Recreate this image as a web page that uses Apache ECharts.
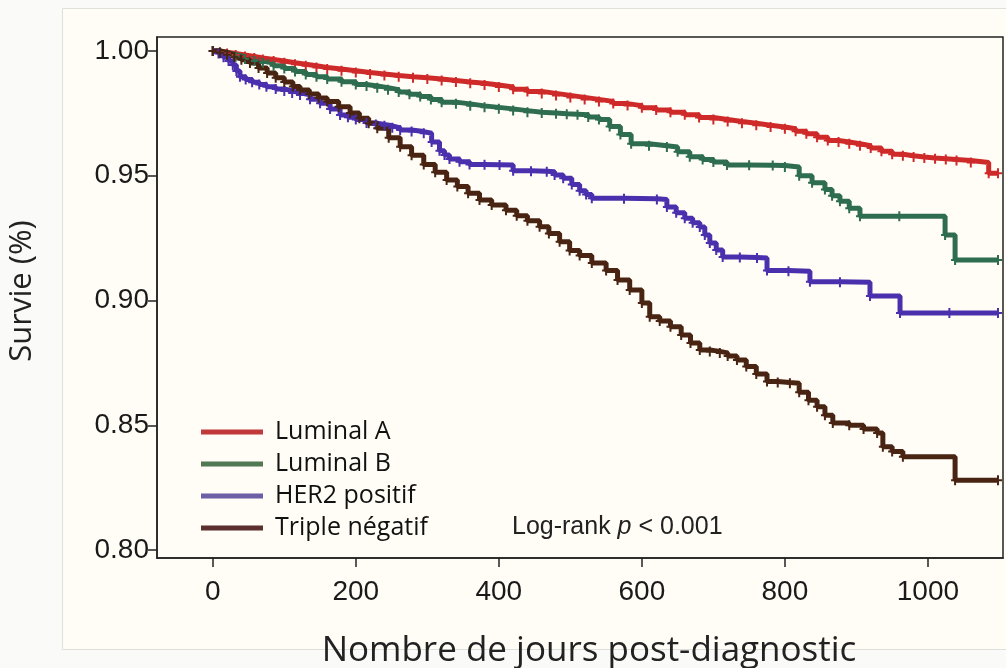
<!DOCTYPE html>
<html>
<head>
<meta charset="utf-8">
<script src="https://cdn.jsdelivr.net/npm/echarts@6.0.0/dist/echarts.min.js"></script>
<style>
    body { margin: 0; background: #fafaf8; }
    #chart { width: 1006px; height: 668px; }
</style>
</head>
<body>
<div id="chart"></div>
<script>
// Courbes de survie (Kaplan-Meier) par sous-type
const seriesNames = ['Luminal A', 'Luminal B', 'HER2 positif', 'Triple négatif'];

const lumADays = [0, 10, 20, 32, 45, 58, 70, 85, 100, 115, 130, 145, 160, 180, 200, 220, 240, 260, 280, 300, 320, 340, 360, 380, 400, 420, 440, 460, 480, 500, 520, 540, 560, 580, 600, 620, 640, 660, 680, 700, 720, 740, 760, 780, 800, 815, 830, 845, 860, 875, 890, 905, 920, 935, 950, 965, 980, 995, 1010, 1025, 1040, 1060, 1085, 1098];
const lumASurv = [1.000, 0.9995, 0.9990, 0.9984, 0.9978, 0.9972, 0.9966, 0.9960, 0.9953, 0.9947, 0.9941, 0.9934, 0.9928, 0.9921, 0.9914, 0.9908, 0.9902, 0.9897, 0.9893, 0.9888, 0.9882, 0.9876, 0.9871, 0.9864, 0.9856, 0.9847, 0.9838, 0.9830, 0.9822, 0.9814, 0.9806, 0.9798, 0.9789, 0.9781, 0.9772, 0.9763, 0.9754, 0.9744, 0.9733, 0.9725, 0.9717, 0.9710, 0.9702, 0.9695, 0.9688, 0.9678, 0.9668, 0.9654, 0.9641, 0.9635, 0.9628, 0.9620, 0.9611, 0.9598, 0.9586, 0.9580, 0.9575, 0.9571, 0.9568, 0.9565, 0.9561, 0.9553, 0.9510, 0.9510];

const lumBDays = [0, 10, 20, 32, 45, 58, 70, 85, 100, 115, 130, 145, 160, 180, 200, 215, 230, 245, 260, 275, 290, 305, 320, 340, 360, 380, 400, 420, 440, 460, 480, 495, 510, 525, 540, 555, 570, 585, 610, 635, 650, 667, 685, 700, 719, 750, 783, 800, 820, 838, 856, 866, 877, 890, 905, 960, 1024, 1038, 1098];
const lumBSurv = [1.000, 0.9993, 0.9985, 0.9977, 0.9968, 0.9960, 0.9952, 0.9941, 0.9930, 0.9918, 0.9906, 0.9897, 0.9888, 0.9877, 0.9866, 0.9860, 0.9853, 0.9845, 0.9836, 0.9827, 0.9818, 0.9806, 0.9795, 0.9788, 0.9780, 0.9774, 0.9768, 0.9761, 0.9754, 0.9751, 0.9748, 0.9746, 0.9744, 0.9735, 0.9725, 0.9697, 0.9665, 0.9628, 0.9620, 0.9615, 0.9596, 0.9576, 0.9565, 0.9555, 0.9543, 0.9542, 0.9541, 0.9535, 0.9500, 0.9472, 0.9445, 0.9420, 0.9398, 0.9370, 0.9338, 0.9338, 0.9262, 0.9162, 0.9162];

const her2Days = [0, 8, 15, 22, 28, 33, 38, 46, 55, 65, 75, 88, 100, 111, 122, 136, 150, 164, 178, 189, 200, 215, 228, 240, 251, 262, 278, 295, 306, 317, 324, 331, 345, 359, 380, 401, 420, 445, 467, 478, 490, 502, 513, 522, 530, 575, 621, 635, 648, 660, 671, 681, 688, 695, 704, 713, 737, 761, 775, 805, 835, 877, 919, 961, 1030, 1098];
const her2Surv = [1.000, 0.9990, 0.9975, 0.9960, 0.9944, 0.9920, 0.9897, 0.9886, 0.9875, 0.9866, 0.9857, 0.9848, 0.9840, 0.9832, 0.9824, 0.9807, 0.9790, 0.9767, 0.9743, 0.9734, 0.9725, 0.9711, 0.9705, 0.9700, 0.9692, 0.9683, 0.9677, 0.9670, 0.9635, 0.9600, 0.9583, 0.9567, 0.9556, 0.9545, 0.9544, 0.9543, 0.9520, 0.9518, 0.9516, 0.9503, 0.9490, 0.9465, 0.9440, 0.9425, 0.9410, 0.9408, 0.9405, 0.9375, 0.9352, 0.9330, 0.9312, 0.9295, 0.9262, 0.9230, 0.9202, 0.9174, 0.9172, 0.9170, 0.9120, 0.9117, 0.9075, 0.9073, 0.9018, 0.8950, 0.8950, 0.8950];

const tripleDays = [0, 10, 20, 30, 40, 52, 64, 76, 88, 100, 112, 122, 135, 148, 160, 176, 192, 205, 218, 230, 246, 262, 278, 295, 311, 327, 342, 357, 373, 390, 410, 425, 440, 457, 470, 485, 499, 513, 530, 550, 566, 583, 600, 611, 625, 640, 655, 668, 681, 695, 709, 720, 733, 746, 760, 775, 790, 807, 820, 833, 845, 856, 867, 890, 910, 929, 937, 950, 965, 1038, 1098];
const tripleSurv = [1.000, 0.9993, 0.9985, 0.9975, 0.9965, 0.9952, 0.9932, 0.9912, 0.9893, 0.9876, 0.9858, 0.9844, 0.9828, 0.9812, 0.9798, 0.9776, 0.9751, 0.9730, 0.9710, 0.9690, 0.9652, 0.9616, 0.9582, 0.9545, 0.9514, 0.9483, 0.9457, 0.9430, 0.9403, 0.9383, 0.9362, 0.9340, 0.9320, 0.9296, 0.9268, 0.9235, 0.9200, 0.9180, 0.9150, 0.9120, 0.9082, 0.9042, 0.8990, 0.8935, 0.8918, 0.8895, 0.8862, 0.8830, 0.8802, 0.8796, 0.8790, 0.8778, 0.8762, 0.8735, 0.8705, 0.8675, 0.8671, 0.8668, 0.8632, 0.8600, 0.8574, 0.8540, 0.8509, 0.8500, 0.8485, 0.8469, 0.8414, 0.8395, 0.8374, 0.8280, 0.8280];

const xTicks = [0, 200, 400, 600, 800, 1000];
const yTicks = [0.80, 0.85, 0.90, 0.95, 1.00];

const curveColors = ['#cf2a2a', '#2e6d4f', '#4b30ae', '#4a2413'];
const legendColors = ['#c0393b', '#4f7a55', '#6b5fa5', '#5b2f2f'];

const chart = echarts.init(document.getElementById('chart'));

const pairs = (days, surv) => days.map((d, i) => [d, surv[i]]);
const allData = [
    pairs(lumADays, lumASurv),
    pairs(lumBDays, lumBSurv),
    pairs(her2Days, her2Surv),
    pairs(tripleDays, tripleSurv)
];

// marque de censure "+"
const plusSymbol = 'path://M3,0h2v4h3v2h-3v4h-2v-4h-3v-2h3z';

const option = {
    backgroundColor: '#fafaf8',
    animation: false,
    grid: {
        left: 157,
        right: 3,
        top: 37,
        bottom: 110,
        show: true,
        borderColor: '#222',
        borderWidth: 1.5,
        outerBoundsMode: 'none'
    },
    legend: {
        orient: 'vertical',
        left: 201,
        top: 419,
        padding: 0,
        icon: 'rect',
        itemWidth: 62,
        itemHeight: 5,
        itemGap: 6,
        textStyle: {
            fontFamily: 'Open Sans',
            fontSize: 25,
            color: '#111',
            lineHeight: 26,
            padding: [0, 0, 0, 7]
        },
        data: seriesNames.map((name, i) => ({
            name,
            itemStyle: { color: legendColors[i] }
        }))
    },
    xAxis: {
        type: 'value',
        min: -78,
        max: 1105,
        splitLine: { show: false },
        axisLine: { show: true, onZero: false, lineStyle: { color: '#222', width: 1.5 } },
        axisTick: {
            show: true,
            length: 9,
            customValues: xTicks,
            lineStyle: { color: '#222', width: 1.5 }
        },
        axisLabel: {
            customValues: xTicks,
            margin: 20,
            fontFamily: 'Liberation Sans',
            fontSize: 28,
            color: '#1a1a1a',
            formatter: v => String(v)
        }
    },
    yAxis: {
        type: 'value',
        min: 0.7968,
        max: 1.0056,
        splitLine: { show: false },
        axisLine: { show: true, onZero: false, lineStyle: { color: '#222', width: 1.5 } },
        axisTick: {
            show: true,
            length: 9,
            customValues: yTicks,
            lineStyle: { color: '#222', width: 1.5 }
        },
        axisLabel: {
            customValues: yTicks,
            margin: 8,
            fontFamily: 'Liberation Sans',
            fontSize: 28,
            color: '#1a1a1a',
            formatter: v => v.toFixed(2)
        }
    },
    graphic: [
        {
            type: 'rect',
            shape: { x: 62.5, y: 8.5, width: 960, height: 641 },
            style: { fill: '#fffdf5', stroke: '#e0e0da', lineWidth: 1 },
            z: -10
        },
        {
            type: 'text',
            x: 22,
            y: 291,
            rotation: Math.PI / 2,
            style: {
                text: 'Survie (%)',
                fontFamily: 'Open Sans',
                fontSize: 31,
                fill: '#222',
                align: 'center',
                verticalAlign: 'middle'
            }
        },
        {
            type: 'text',
            x: 589,
            y: 651,
            style: {
                text: 'Nombre de jours post-diagnostic',
                fontFamily: 'Open Sans',
                fontSize: 35,
                fill: '#222',
                align: 'center',
                verticalAlign: 'middle'
            }
        },
        {
            type: 'text',
            x: 512,
            y: 527,
            style: {
                text: '{a|Log-rank }{p|p}{a| < 0.001}',
                verticalAlign: 'middle',
                rich: {
                    a: { fontFamily: 'Liberation Sans', fontSize: 25, fill: '#222' },
                    p: { fontFamily: 'Liberation Sans', fontSize: 25, fontStyle: 'italic', fill: '#222' }
                }
            }
        }
    ],
    series: seriesNames.map((name, i) => ({
        name,
        type: 'line',
        step: 'end',
        data: allData[i],
        showSymbol: true,
        symbol: plusSymbol,
        symbolSize: [8, 10],
        itemStyle: { color: curveColors[i] },
        lineStyle: { color: curveColors[i], width: 5 },
        emphasis: { disabled: true }
    }))
};

chart.setOption(option);
</script>
</body>
</html>
